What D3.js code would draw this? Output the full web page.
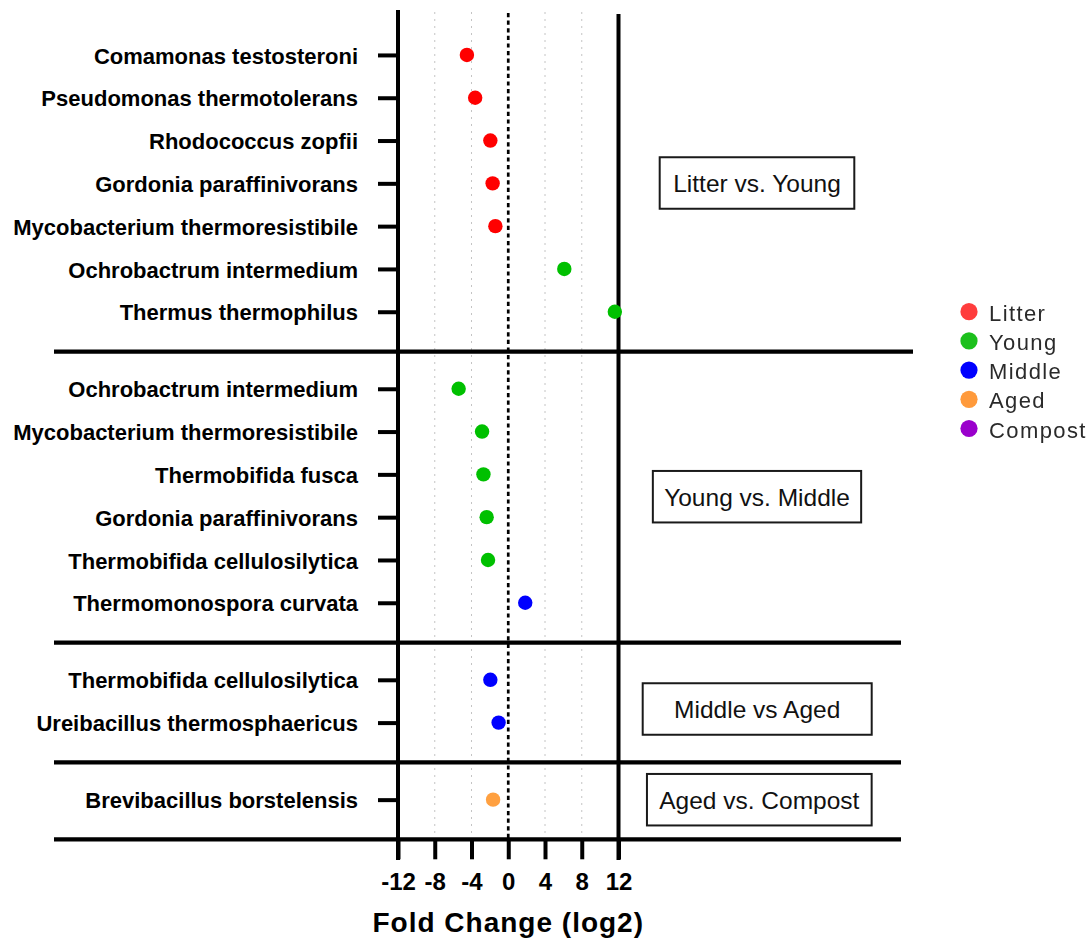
<!DOCTYPE html>
<html>
<head>
<meta charset="utf-8">
<script src="https://cdn.jsdelivr.net/npm/d3@7"></script>
<style>
  body { margin: 0; background: #fff; }
  svg { font-family: Arial, "Liberation Sans", sans-serif; }
</style>
</head>
<body>
<script>
// species shown on the y axis, top to bottom
const species = [
  "Comamonas testosteroni",
  "Pseudomonas thermotolerans",
  "Rhodococcus zopfii",
  "Gordonia paraffinivorans",
  "Mycobacterium thermoresistibile",
  "Ochrobactrum intermedium",
  "Thermus thermophilus",
  "Ochrobactrum intermedium",
  "Mycobacterium thermoresistibile",
  "Thermobifida fusca",
  "Gordonia paraffinivorans",
  "Thermobifida cellulosilytica",
  "Thermomonospora curvata",
  "Thermobifida cellulosilytica",
  "Ureibacillus thermosphaericus",
  "Brevibacillus borstelensis"
];
// log2 fold change
const foldChange = [-4.5, -3.6, -1.95, -1.7, -1.4, 6.1, 11.6,
  -5.4, -2.85, -2.7, -2.35, -2.2, 1.85,
  -1.95, -1.05,
  -1.65];
// which stage each point is enriched in (colour)
const enrichedIn = ["Litter", "Litter", "Litter", "Litter", "Litter", "Young", "Young",
  "Young", "Young", "Young", "Young", "Young", "Middle",
  "Middle", "Middle",
  "Aged"];
// which comparison panel each row sits in
const panelOf = [0, 0, 0, 0, 0, 0, 0, 1, 1, 1, 1, 1, 1, 2, 2, 3];
const comparisons = ["Litter vs. Young", "Young vs. Middle", "Middle vs Aged", "Aged vs. Compost"];
const stages = ["Litter", "Young", "Middle", "Aged", "Compost"];
const xTicks = [-12, -8, -4, 0, 4, 8, 12];
const gridTicks = [-8, -4, 4, 8];

const width = 1091;
const height = 940;

const dotColor = d3.scaleOrdinal()
  .domain(stages)
  .range(["#ff0000", "#00c000", "#0000ff", "#ffa040", "#9900cc"]);
const legendColor = d3.scaleOrdinal()
  .domain(stages)
  .range(["#ff3d3d", "#1ec01e", "#0000ff", "#ff9a3a", "#9a00cc"]);

// each panel break adds a bit of extra room between rows
const panelGap = 0.8;
const sepOffset = 0.93;
const slot = species.map((s, i) => i + panelOf[i] * panelGap);

const x = d3.scaleLinear().domain([-12, 12]).range([398, 618.5]);
const y = d3.scaleLinear().domain([-1.05, 18.35]).range([10, 840.3]);

const svg = d3.select("body")
  .append("svg")
  .attr("width", width)
  .attr("height", height);

svg.append("rect").attr("width", width).attr("height", height).attr("fill", "#fff");

const plotTop = 12;
const plotBottom = y(18.35);

// light dotted grid
svg.append("g")
  .selectAll("line")
  .data(gridTicks)
  .enter()
  .append("line")
  .attr("x1", (d) => x(d))
  .attr("x2", (d) => x(d))
  .attr("y1", plotTop)
  .attr("y2", plotBottom)
  .attr("stroke", "#c4c4c4")
  .attr("stroke-width", 1)
  .attr("stroke-dasharray", "2,5");

// zero line
svg.append("line")
  .attr("x1", x(0))
  .attr("x2", x(0))
  .attr("y1", 13)
  .attr("y2", plotBottom)
  .attr("stroke", "#000")
  .attr("stroke-width", 2.7)
  .attr("stroke-dasharray", "4.2,3.4");

// panel separators (last one is the x axis line)
const sepSlots = comparisons.map((c, p) => d3.max(slot.filter((s, i) => panelOf[i] === p)) + sepOffset);
const sepRight = [913, 901, 901, 901];
svg.append("g")
  .selectAll("line")
  .data(sepSlots)
  .enter()
  .append("line")
  .attr("x1", 54)
  .attr("x2", (d, i) => sepRight[i])
  .attr("y1", (d) => y(d))
  .attr("y2", (d) => y(d))
  .attr("stroke", "#000")
  .attr("stroke-width", 4.3);

// y axis with species labels
const yAxis = d3.axisLeft(y)
  .tickValues(slot)
  .tickFormat((d, i) => species[i])
  .tickSize(20)
  .tickPadding(20);

const gy = svg.append("g")
  .attr("transform", `translate(${x(-12)},0)`)
  .call(yAxis);
gy.select(".domain").remove();
gy.selectAll(".tick line").attr("stroke", "#000").attr("stroke-width", 4);
gy.selectAll(".tick text")
  .attr("font-size", 22)
  .attr("font-weight", "bold")
  .attr("fill", "#000")
  .attr("dy", "0.37em");

// left and right vertical lines
svg.append("line")
  .attr("x1", x(-12)).attr("x2", x(-12))
  .attr("y1", 10).attr("y2", 860)
  .attr("stroke", "#000").attr("stroke-width", 4);
svg.append("line")
  .attr("x1", x(12)).attr("x2", x(12))
  .attr("y1", 14).attr("y2", 860)
  .attr("stroke", "#000").attr("stroke-width", 4);

// x axis
const xAxis = d3.axisBottom(x)
  .tickValues(xTicks)
  .tickFormat((d) => String(d))
  .tickSize(19)
  .tickPadding(14);

const gx = svg.append("g")
  .attr("transform", `translate(0,${plotBottom})`)
  .call(xAxis);
gx.select(".domain").remove();
gx.selectAll(".tick line").attr("stroke", "#000").attr("stroke-width", 4);
gx.selectAll(".tick text")
  .attr("font-size", 24)
  .attr("font-weight", "bold")
  .attr("fill", "#000");

svg.append("text")
  .attr("x", x(0))
  .attr("y", 932)
  .attr("text-anchor", "middle")
  .attr("font-size", 28)
  .attr("font-weight", "bold")
  .attr("letter-spacing", 1)
  .attr("fill", "#000")
  .text("Fold Change (log2)");

// points
svg.append("g")
  .selectAll("circle")
  .data(foldChange)
  .enter()
  .append("circle")
  .attr("cx", (d) => x(d))
  .attr("cy", (d, i) => y(slot[i]))
  .attr("r", 7.2)
  .attr("fill", (d, i) => dotColor(enrichedIn[i]));

// comparison boxes
const boxes = [
  { cx: 757, cy: 183, w: 194.6 },
  { cx: 757, cy: 496.7, w: 208.3 },
  { cx: 757.2, cy: 709, w: 229 },
  { cx: 759.3, cy: 799.7, w: 224.7 }
];
const boxH = 51.5;
const gb = svg.append("g")
  .selectAll("g")
  .data(comparisons)
  .enter()
  .append("g")
  .attr("transform", (d, i) => `translate(${boxes[i].cx},${boxes[i].cy})`);
gb.append("rect")
  .attr("x", (d, i) => -boxes[i].w / 2)
  .attr("y", -boxH / 2)
  .attr("width", (d, i) => boxes[i].w)
  .attr("height", boxH)
  .attr("fill", "#fff")
  .attr("stroke", "#1a1a1a")
  .attr("stroke-width", 2);
gb.append("text")
  .attr("text-anchor", "middle")
  .attr("dy", "0.36em")
  .attr("font-size", 24.5)
  .attr("fill", "#111")
  .text((d) => d);

// legend
const defs = svg.append("defs");
defs.append("filter")
  .attr("id", "soft")
  .append("feGaussianBlur")
  .attr("stdDeviation", 0.45);

const legend = svg.append("g")
  .attr("transform", "translate(969,311.7)")
  .attr("filter", "url(#soft)");
const li = legend.selectAll("g")
  .data(stages)
  .enter()
  .append("g")
  .attr("transform", (d, i) => `translate(0,${i * 29.2})`);
li.append("circle")
  .attr("r", 8.6)
  .attr("fill", (d) => legendColor(d));
li.append("text")
  .attr("x", 20)
  .attr("y", 9)
  .attr("font-size", 22)
  .attr("letter-spacing", 1.4)
  .attr("fill", "#2b2b2b")
  .text((d) => d);
</script>
</body>
</html>
